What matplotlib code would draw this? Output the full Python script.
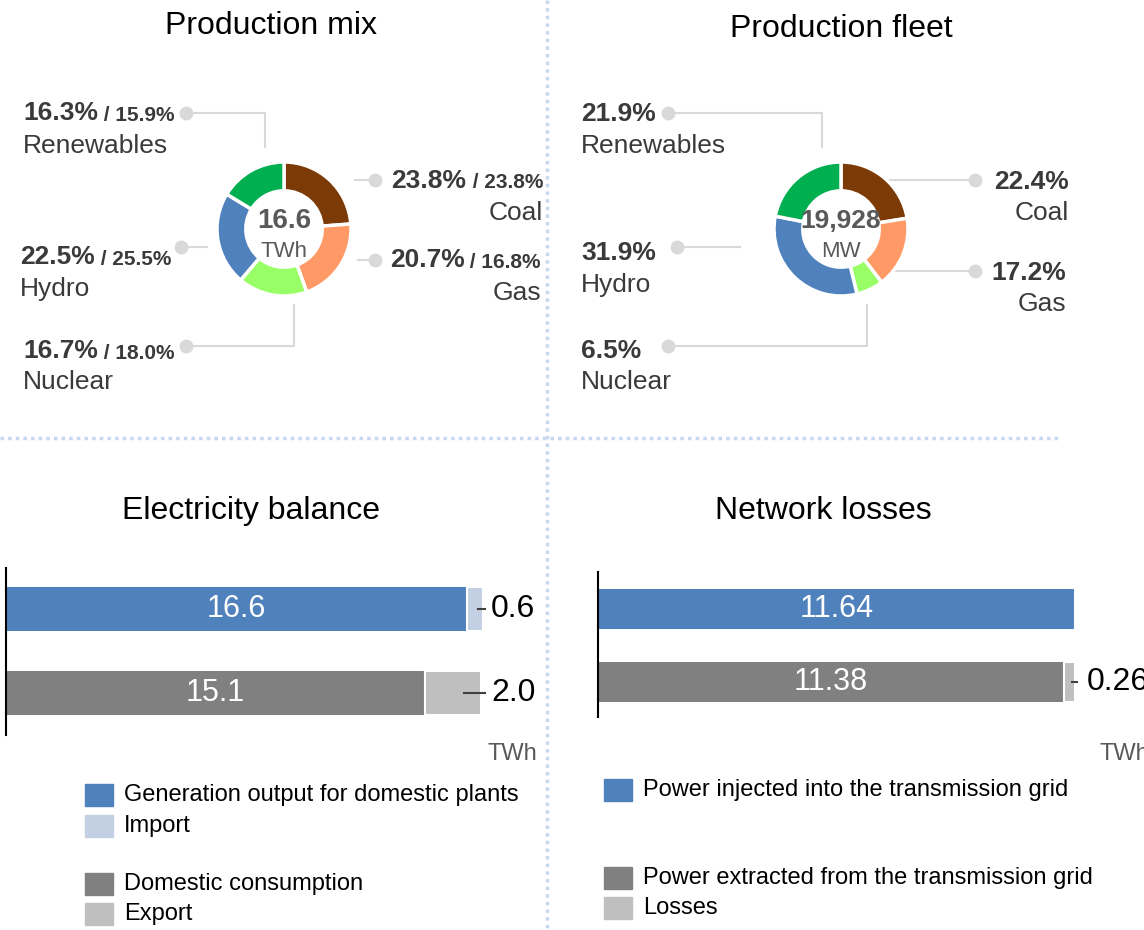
import matplotlib.pyplot as plt
from matplotlib.patches import Rectangle

plt.rcParams['font.family'] = ['Liberation Sans', 'DejaVu Sans']

# 데이터
sources = ['Coal', 'Gas', 'Nuclear', 'Hydro', 'Renewables']
source_colors = ['#7B3A06', '#FF9966', '#99FF66', '#4F81BD', '#00B050']
mix_share = [23.8, 20.7, 16.7, 22.5, 16.3]
mix_prev = [23.8, 16.8, 18.0, 25.5, 15.9]
fleet_share = [22.4, 17.2, 6.5, 31.9, 21.9]
mix_total = '16.6'
fleet_total = '19,928'

balance_main = [16.6, 15.1]
balance_side = [0.6, 2.0]
losses_main = [11.64, 11.38]
losses_side = [0.0, 0.26]

balance_legend = ['Generation output for domestic plants', 'Import', None,
                  'Domestic consumption', 'Export']
losses_legend = ['Power injected into the transmission grid', None, None,
                 'Power extracted from the transmission grid', 'Losses']

W, H = 1144, 930
BLUE, LBLUE, GRAY, LGRAY = '#4F81BD', '#C3CFE3', '#808080', '#BFBFBF'
TXT = '#3a3a3a'
LINE = '#D9D9D9'

fig = plt.figure(figsize=(W / 100, H / 100), dpi=100)

# 배경 (픽셀 좌표)
bg = fig.add_axes([0, 0, 1, 1], zorder=0)
bg.set_xlim(0, W)
bg.set_ylim(H, 0)
bg.axis('off')

sep = dict(color='#C6D9F1', lw=2.5, ls=(0, (1, 1.2)))
bg.plot([547, 547], [0, H], **sep)
bg.plot([0, 1060], [438, 438], **sep)

for x, y, t in [(271, 26, 'Production mix'), (841, 29, 'Production fleet'),
                (251, 511, 'Electricity balance'), (823, 511, 'Network losses')]:
    bg.text(x, y, t, ha='center', va='center', fontsize=23, color='black')


def donut(cx, cy, values, total, unit):
    r, s = 67, 180
    a = fig.add_axes([(cx - s / 2) / W, 1 - (cy + s / 2) / H, s / W, s / H], zorder=2)
    a.pie(values, colors=source_colors, startangle=90, counterclock=False, radius=1,
          wedgeprops=dict(width=0.43, edgecolor='white', linewidth=2.5))
    lim = s / 2 / r
    a.set_xlim(-lim, lim)
    a.set_ylim(-lim, lim)
    a.set_aspect('equal')
    a.axis('off')
    a.text(0, 0.12, total, ha='center', va='center', fontsize=20 if len(total) < 5 else 19,
           fontweight='bold', color='#595959')
    a.text(0, -0.33, unit, ha='center', va='center', fontsize=16, color='#595959')


donut(284, 229, mix_share, mix_total, 'TWh')
donut(841, 229, fleet_share, fleet_total, 'MW')


def leader(pts):
    xs, ys = zip(*pts)
    bg.plot(xs, ys, color=LINE, lw=1.5, zorder=1)
    bg.plot(xs[0], ys[0], 'o', ms=10, color=LINE, mec='none', zorder=1)


def label(x, y, ny, pct, prev, name, right=False):
    ha = 'right' if right else 'left'
    if prev is None:
        bg.text(x, y, f'{pct:.1f}%', ha=ha, va='center', fontsize=19, fontweight='bold', color=TXT)
    elif right:
        t2 = bg.text(x, y, f' / {prev:.1f}%', ha='right', va='center', fontsize=15,
                     fontweight='bold', color=TXT)
        bg.annotate(f'{pct:.1f}%', xy=(0, 0), xycoords=t2, ha='right', va='bottom',
                    fontsize=19, fontweight='bold', color=TXT)
    else:
        t1 = bg.text(x, y, f'{pct:.1f}%', ha='left', va='center', fontsize=19,
                     fontweight='bold', color=TXT)
        bg.annotate(f' / {prev:.1f}%', xy=(1, 0), xycoords=t1, ha='left', va='bottom',
                    fontsize=15, fontweight='bold', color=TXT)
    bg.text(x, ny, name, ha=ha, va='center', fontsize=19, color=TXT)


# 왼쪽 도넛 라벨
mix_pos = {
    'Coal': (543, 183, 213, True, [(375, 180), (355, 180)]),
    'Gas': (541, 262, 293, True, [(375, 260), (358, 260)]),
    'Nuclear': (23, 351, 382, False, [(186, 346), (294, 346), (294, 305)]),
    'Hydro': (20, 257, 289, False, [(181, 247), (207, 247)]),
    'Renewables': (23, 113, 146, False, [(186, 113), (265, 113), (265, 147)]),
}
for i, s in enumerate(sources):
    x, y, ny, right, pts = mix_pos[s]
    leader(pts)
    label(x, y, ny, mix_share[i], mix_prev[i], s, right)

# 오른쪽 도넛 라벨
fleet_pos = {
    'Coal': (1069, 182, 213, True, [(975, 180), (863, 180)]),
    'Gas': (1066, 273, 304, True, [(975, 271), (869, 271)]),
    'Nuclear': (581, 351, 382, False, [(668, 346), (867, 346), (867, 305)]),
    'Hydro': (581, 253, 285, False, [(677, 247), (740, 247)]),
    'Renewables': (581, 114, 146, False, [(668, 113), (822, 113), (822, 147)]),
}
for i, s in enumerate(sources):
    x, y, ny, right, pts = fleet_pos[s]
    leader(pts)
    label(x, y, ny, fleet_share[i], None, s, right)


def bars(left, right, top, bottom, unit_px, c1, c2, main, side, y_top, y_bot, bh):
    a = fig.add_axes([left / W, 1 - bottom / H, (right - left) / W, (bottom - top) / H], zorder=2)
    a.patch.set_alpha(0)
    a.set_xlim(0, (right - left) / unit_px)
    a.set_ylim(y_bot, y_top)
    ys = [0, 1]
    a.barh(ys, main, height=bh, color=['#4F81BD', GRAY])
    a.barh(ys, side, left=main, height=bh, color=[c1, c2], edgecolor='white', linewidth=1.5)
    for sp in ['top', 'right', 'bottom']:
        a.spines[sp].set_visible(False)
    a.spines['left'].set_linewidth(1.5)
    a.set_xticks([])
    a.set_yticks([])
    end = max(m + s for m, s in zip(main, side))
    for y, m, s in zip(ys, main, side):
        a.text(m / 2, y, f'{m:g}' if m % 1 else f'{m:.1f}', ha='center', va='center',
               fontsize=22, color='white')
        if s > 0:
            a.plot([m + s * 0.7, end + 0.06], [y, y], color='#404040', lw=1.5, clip_on=False)
            a.text(end + 0.28, y, f'{s:.1f}' if s >= 0.5 else f'{s:.2f}', ha='left', va='center',
                   fontsize=23, color='black', clip_on=False)
    return a


bars(6, 537, 568, 735, 27.75, LBLUE, LGRAY, balance_main, balance_side, -0.488, 1.5, 0.524)
bars(598, W, 572, 717, 40.98, LBLUE, LGRAY, losses_main, losses_side, -0.507, 1.48, 0.55)

bg.text(537, 754, 'TWh', ha='right', va='center', fontsize=17, color='#595959')
bg.text(1099, 754, 'TWh', ha='left', va='center', fontsize=17, color='#595959')


def legend(x, ys, labels, colors):
    for y, t, c in zip(ys, labels, colors):
        if t is None:
            continue
        bg.add_patch(Rectangle((x, y - 11), 28, 22, color=c))
        bg.text(x + 39, y, t, ha='left', va='center', fontsize=17, color='black')


legend(85, [795, 826, 855, 884, 914], balance_legend, [BLUE, LBLUE, None, GRAY, LGRAY])
legend(604, [790, 819, 849, 878, 908], losses_legend, [BLUE, None, None, GRAY, LGRAY])

fig.savefig('out.png', dpi=100)
